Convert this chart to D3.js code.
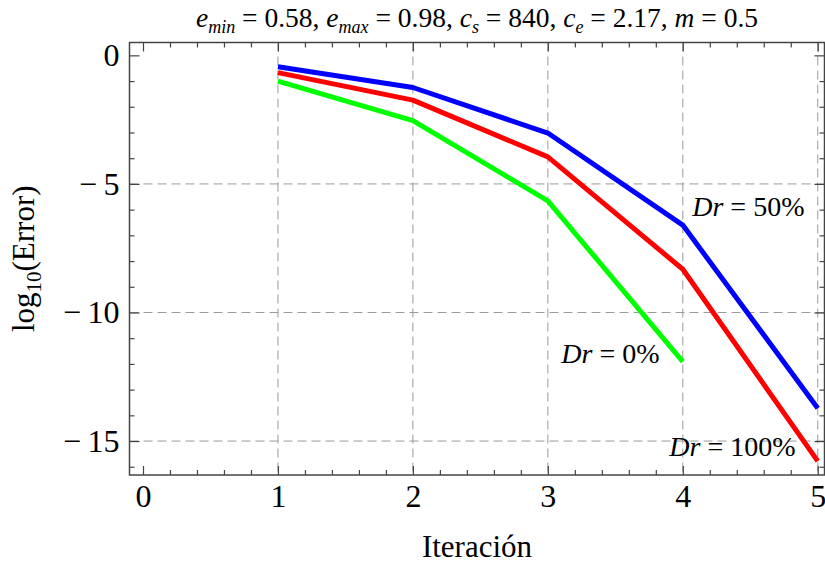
<!DOCTYPE html>
<html>
<head>
<meta charset="utf-8">
<script src="https://cdn.jsdelivr.net/npm/d3@7"></script>
<style>
  body { margin: 0; background: #fff; }
  svg { display: block; font-family: "Liberation Serif", "DejaVu Serif", serif; }
  .grid line { stroke: #9a9a9a; stroke-width: 1; stroke-dasharray: 9 5; }
  .tick line { stroke: #444; stroke-width: 1.2; }
  .tick text { font-size: 32px; fill: #000; font-family: "Liberation Serif", serif; }
</style>
</head>
<body>
<svg id="chart"></svg>
<script>
'use strict'

// iteration numbers
const iterations = [1, 2, 3, 4, 5]
// log10(error) per series
const dr50 = [-0.44, -1.25, -3.02, -6.6, -13.72]
const dr100 = [-0.67, -1.74, -3.95, -8.32, -15.78]
const dr0 = [-1.0, -2.54, -5.66, -11.91]

const seriesNames = ['Dr = 50%', 'Dr = 100%', 'Dr = 0%']
const seriesColors = ['#0000ff', '#ff0000', '#00ff00']

const xTicks = [0, 1, 2, 3, 4, 5]
const yTicks = [0, -5, -10, -15]
const xGrid = [1, 2, 3, 4, 5]
const yGrid = [-5, -10, -15]

// title pieces: variable, subscript, value
const titleParts = [
  {v: 'e', sub: 'min', val: '0.58'},
  {v: 'e', sub: 'max', val: '0.98'},
  {v: 'c', sub: 's', val: '840'},
  {v: 'c', sub: 'e', val: '2.17'},
  {v: 'm', sub: '', val: '0.5'}
]

// curve labels (data coordinates of the text start / baseline)
const labels = [
  {pct: '50%', x: 4.07, y: -6.25},
  {pct: '0%', x: 3.10, y: -11.96},
  {pct: '100%', x: 3.90, y: -15.58}
]

const width = 825, height = 565
const svg = d3.select('#chart').attr('width', width).attr('height', height)

const x = d3.scaleLinear().domain([-0.1, 5.05]).range([129.5, 824.5])
const y = d3.scaleLinear().domain([0.5, -16.32]).range([42.5, 475])

// grid lines
const grid = svg.append('g').classed('grid', true)
grid.selectAll('line.v').data(xGrid).enter().append('line')
  .attr('x1', d => x(d)).attr('x2', d => x(d))
  .attr('y1', y.range()[0]).attr('y2', y.range()[1])
grid.selectAll('line.h').data(yGrid).enter().append('line')
  .attr('y1', d => y(d)).attr('y2', d => y(d))
  .attr('x1', x.range()[0]).attr('x2', x.range()[1])

// axes (ticks point inward)
const xMinor = d3.range(0, 25.5, 1).map(i => i / 5).filter(v => !xTicks.includes(v))
const yMinor = d3.range(-16, 0.5, 1).filter(v => !yTicks.includes(v))
const pBottom = y.range()[1], pTop = y.range()[0], pLeft = x.range()[0], pRight = x.range()[1]

function axisGroup (axis, tx, ty) {
  const g = svg.append('g').attr('transform', `translate(${tx},${ty})`).call(axis)
  g.select('.domain').remove()
  return g
}

const fmt = d => d < 0 ? '\u2212\u2009' + Math.abs(d) : String(d)

const xb = axisGroup(d3.axisBottom(x).tickValues(xTicks).tickSize(-9).tickPadding(10).tickFormat(fmt), 0, pBottom)
xb.selectAll('text').attr('dy', '0.68em')
axisGroup(d3.axisBottom(x).tickValues(xMinor).tickSize(-5).tickFormat(''), 0, pBottom)
axisGroup(d3.axisTop(x).tickValues(xTicks).tickSize(-9).tickFormat(''), 0, pTop)
axisGroup(d3.axisTop(x).tickValues(xMinor).tickSize(-5).tickFormat(''), 0, pTop)

axisGroup(d3.axisLeft(y).tickValues(yTicks).tickSize(-10).tickPadding(10).tickFormat(fmt), pLeft, 0)
axisGroup(d3.axisLeft(y).tickValues(yMinor).tickSize(-5).tickFormat(''), pLeft, 0)
axisGroup(d3.axisRight(y).tickValues(yTicks).tickSize(-10).tickFormat(''), pRight, 0)
axisGroup(d3.axisRight(y).tickValues(yMinor).tickSize(-5).tickFormat(''), pRight, 0)

// frame
svg.append('rect')
  .attr('x', pLeft).attr('y', pTop)
  .attr('width', pRight - pLeft).attr('height', pBottom - pTop)
  .attr('fill', 'none').attr('stroke', '#444').attr('stroke-width', 1.5)

// lines
const line = d3.line().x((d, i) => x(iterations[i])).y(d => y(d))
const allSeries = [dr50, dr100, dr0]
svg.append('g').selectAll('path').data(allSeries).enter().append('path')
  .attr('d', d => line(d))
  .attr('fill', 'none')
  .attr('stroke', (d, i) => seriesColors[i])
  .attr('stroke-width', 5)
  .attr('stroke-linejoin', 'round')

// curve labels
labels.forEach(l => {
  const t = svg.append('text')
    .attr('x', x(l.x)).attr('y', y(l.y))
    .attr('font-size', 28)
  t.append('tspan').attr('font-style', 'italic').text('Dr')
  t.append('tspan').text(' = ' + l.pct)
})

// title
const title = svg.append('text')
  .attr('x', (pLeft + pRight) / 2).attr('y', 27)
  .attr('text-anchor', 'middle')
  .attr('font-size', 27.5)
titleParts.forEach((p, i) => {
  title.append('tspan').attr('font-style', 'italic').text(p.v)
  if (p.sub) {
    title.append('tspan').attr('font-style', 'italic').attr('font-size', 18).attr('dy', 6).text(p.sub)
    title.append('tspan').attr('dy', -6).text(' = ' + p.val + (i < titleParts.length - 1 ? ', ' : ''))
  } else {
    title.append('tspan').text(' = ' + p.val)
  }
})

// x axis label
svg.append('text')
  .attr('x', (pLeft + pRight) / 2).attr('y', 557)
  .attr('text-anchor', 'middle')
  .attr('font-size', 31)
  .text('Iteración')

// y axis label
const yl = svg.append('text')
  .attr('transform', `translate(34,${(pTop + pBottom) / 2}) rotate(-90)`)
  .attr('text-anchor', 'middle')
  .attr('font-size', 31)
yl.append('tspan').text('log')
yl.append('tspan').attr('font-size', 21).attr('dy', 7).text('10')
yl.append('tspan').attr('dy', -7).text('(Error)')
</script>
</body>
</html>
